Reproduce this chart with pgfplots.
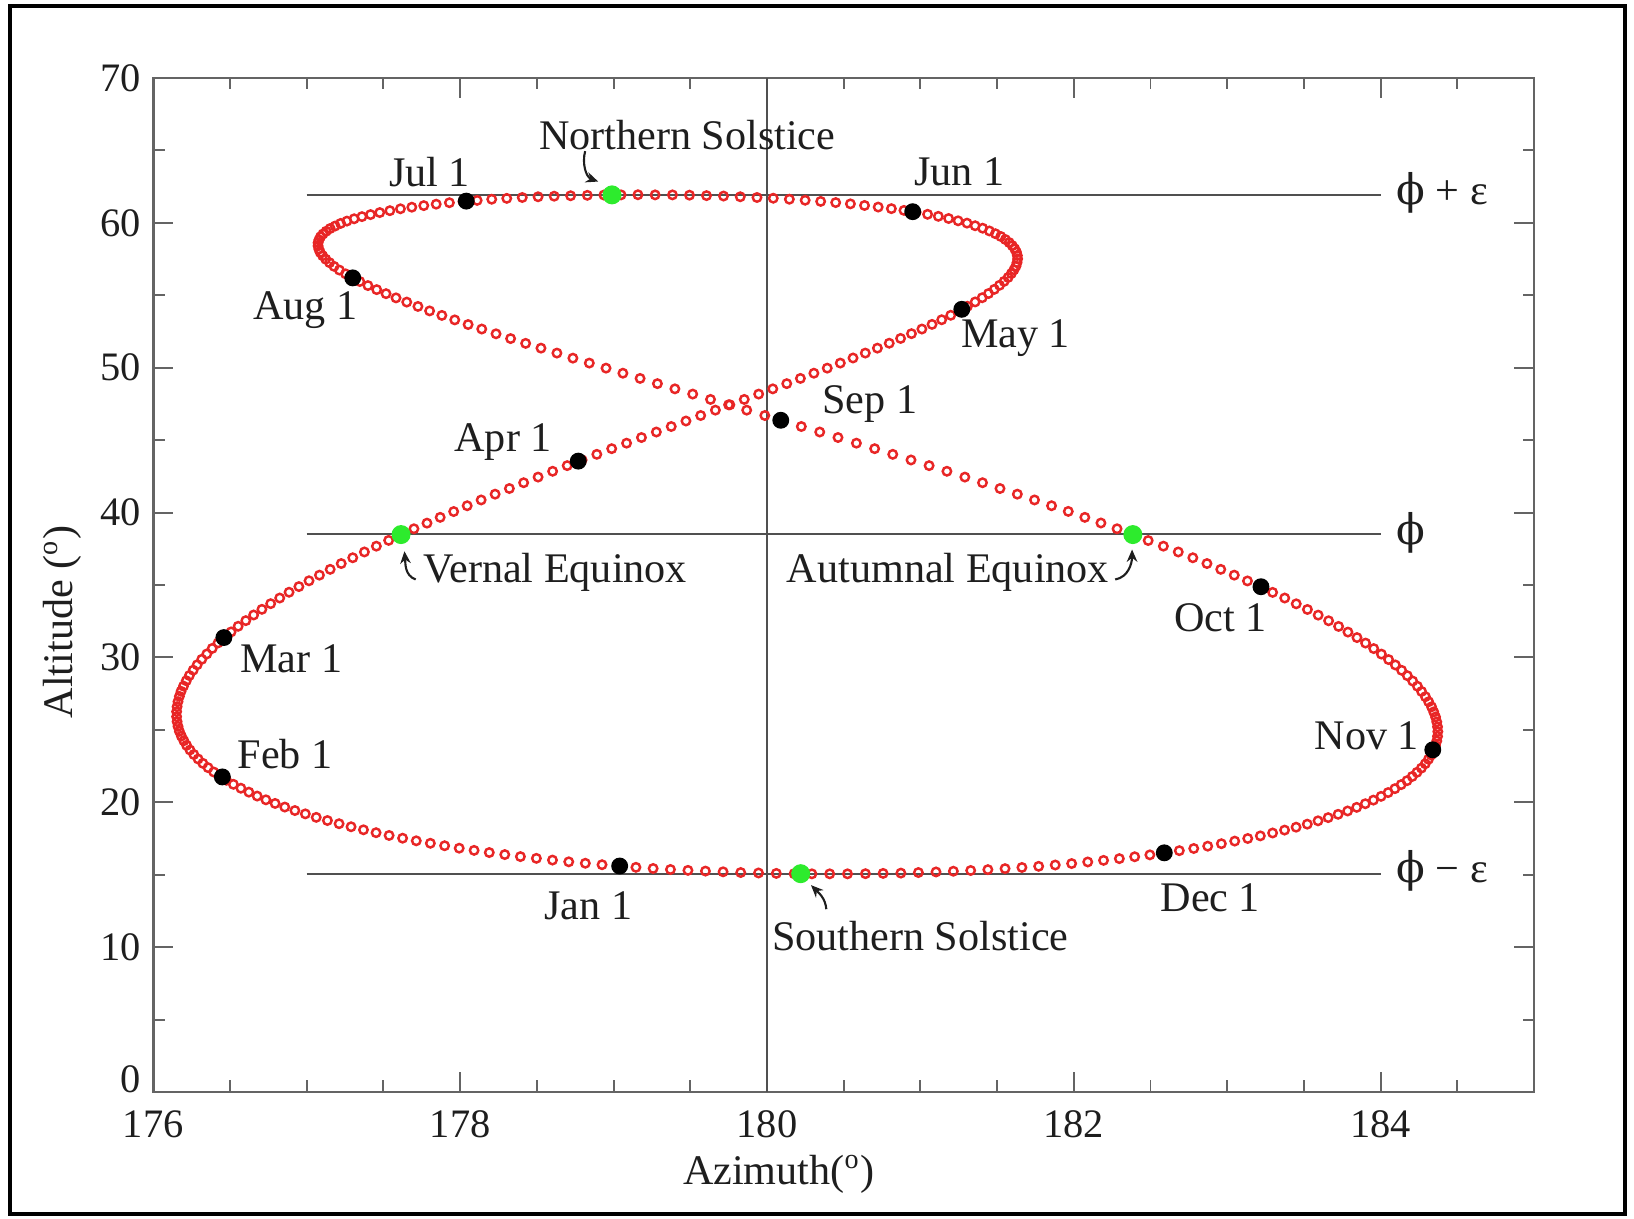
\documentclass[border=0pt]{standalone}
\usepackage{pgfplots}
\pgfplotsset{compat=1.18}
\usepackage{fontspec}
\setmainfont{Liberation Serif}
\newfontfamily\dvs{DejaVu Serif}
\usetikzlibrary{arrows.meta}
\definecolor{axgray}{RGB}{100,100,100}
\definecolor{lngray}{RGB}{80,80,80}
\definecolor{mkred}{RGB}{232,38,38}
\definecolor{mkgreen}{RGB}{45,235,45}
\definecolor{txt}{RGB}{30,30,30}
\begin{document}
\begin{tikzpicture}
\useasboundingbox (0,0) rectangle (16.34,12.19);
\draw[line width=1.4pt] (0.10,0.05) rectangle (16.25,12.13);
\begin{axis}[
  scale only axis, width=13.807cm, height=10.14cm,
  at={(1.533cm,1.27cm)}, anchor=south west,
  xmin=176, xmax=185, ymin=0, ymax=70,
  xtick={176,178,180,182,184},
  minor xtick={176.5,177,177.5,178,178.5,179,179.5,180,180.5,181,181.5,182,182.5,183,183.5,184,184.5},
  ytick={10,20,30,40,50,60,70},
  extra y ticks={0},
  extra y tick style={yticklabel style={yshift=0.13cm}},
  minor ytick={5,15,25,35,45,55,65},
  tick align=inside,
  major tick length=0.2cm, minor tick length=0.115cm,
  axis line style={axgray, line width=0.7pt},
  tick style={axgray, line width=0.55pt},
  ticklabel style={font=\fontsize{11.5}{13}\selectfont, text=txt},
  xticklabel style={yshift=-0.06cm},
  /pgf/number format/assume math mode=true,
  xlabel={Azimuth(\textsuperscript{o})},
  ylabel={Altitude (\textsuperscript{o})},
  label style={font=\fontsize{12}{14}\selectfont, text=txt},
  xlabel style={at={(axis description cs:0.453,-0.081)}, anchor=center},
  ylabel style={at={(axis description cs:-0.066,0.4635)}, anchor=center},
  clip=false,
]
\draw[lngray, line width=0.55pt] (axis cs:177,61.95) -- (axis cs:184,61.95);
\draw[lngray, line width=0.55pt] (axis cs:177,38.5) -- (axis cs:184,38.5);
\draw[lngray, line width=0.55pt] (axis cs:177,15.07) -- (axis cs:184,15.07);
\draw[lngray, line width=0.55pt] (axis cs:180,0) -- (axis cs:180,70);

\addplot[only marks, mark=o, mark size=1.2pt, mark options={draw=mkred, fill=mkred!25, line width=0.7pt}] table {
x y
177.615 38.48
177.699 38.88
177.784 39.27
177.870 39.67
177.958 40.07
178.046 40.47
178.137 40.87
178.228 41.27
178.321 41.66
178.414 42.06
178.508 42.45
178.603 42.85
178.698 43.24
178.795 43.63
178.891 44.02
178.988 44.41
179.085 44.79
179.182 45.18
179.279 45.56
179.376 45.94
179.472 46.32
179.568 46.70
179.664 47.07
179.758 47.44
179.852 47.81
179.946 48.18
180.038 48.54
180.129 48.90
180.218 49.26
180.306 49.62
180.393 49.97
180.478 50.32
180.561 50.67
180.641 51.01
180.720 51.35
180.797 51.69
180.871 52.02
180.942 52.35
181.010 52.67
181.076 52.99
181.139 53.31
181.198 53.62
181.255 53.93
181.307 54.24
181.357 54.54
181.403 54.83
181.444 55.12
181.482 55.41
181.516 55.69
181.546 55.96
181.572 56.23
181.593 56.50
181.610 56.76
181.623 57.01
181.630 57.26
181.634 57.51
181.632 57.75
181.626 57.98
181.615 58.21
181.599 58.43
181.579 58.64
181.554 58.85
181.524 59.06
181.489 59.25
181.450 59.44
181.406 59.63
181.357 59.80
181.304 59.98
181.246 60.14
181.184 60.30
181.117 60.45
181.047 60.59
180.972 60.73
180.893 60.86
180.811 60.98
180.725 61.09
180.636 61.20
180.544 61.31
180.448 61.40
180.350 61.48
180.249 61.56
180.146 61.63
180.041 61.70
179.935 61.75
179.826 61.80
179.717 61.85
179.606 61.88
179.495 61.91
179.384 61.93
179.271 61.93
179.159 61.94
179.049 61.93
178.937 61.92
178.829 61.90
178.720 61.87
178.613 61.84
178.508 61.80
178.405 61.75
178.304 61.69
178.206 61.63
178.111 61.55
178.019 61.47
177.930 61.39
177.844 61.29
177.763 61.19
177.685 61.08
177.611 60.97
177.542 60.84
177.476 60.71
177.416 60.57
177.360 60.43
177.309 60.28
177.262 60.12
177.221 59.96
177.185 59.78
177.153 59.61
177.127 59.42
177.106 59.23
177.090 59.04
177.080 58.83
177.074 58.63
177.074 58.41
177.079 58.19
177.088 57.96
177.104 57.73
177.124 57.49
177.149 57.25
177.178 57.00
177.213 56.74
177.253 56.48
177.297 56.22
177.346 55.95
177.399 55.67
177.456 55.39
177.517 55.11
177.582 54.82
177.652 54.53
177.725 54.23
177.801 53.92
177.881 53.61
177.965 53.30
178.052 52.98
178.141 52.67
178.234 52.34
178.329 52.01
178.427 51.68
178.527 51.35
178.631 51.01
178.735 50.66
178.842 50.32
178.951 49.97
179.061 49.62
179.173 49.26
179.286 48.90
179.400 48.54
179.516 48.18
179.632 47.81
179.750 47.44
179.868 47.07
179.986 46.70
180.105 46.32
180.224 45.94
180.344 45.56
180.463 45.18
180.583 44.79
180.702 44.41
180.820 44.02
180.939 43.63
181.057 43.24
181.173 42.85
181.290 42.45
181.405 42.06
181.519 41.66
181.632 41.27
181.744 40.87
181.855 40.47
181.964 40.08
182.072 39.67
182.177 39.28
182.282 38.88
182.385 38.48
182.485 38.07
182.584 37.68
182.681 37.28
182.776 36.88
182.868 36.48
182.958 36.08
183.046 35.68
183.132 35.28
183.215 34.89
183.296 34.49
183.375 34.10
183.450 33.70
183.523 33.31
183.593 32.92
183.661 32.53
183.726 32.14
183.787 31.75
183.846 31.37
183.902 30.99
183.955 30.61
184.005 30.23
184.052 29.85
184.096 29.48
184.137 29.11
184.174 28.74
184.209 28.37
184.240 28.01
184.267 27.65
184.292 27.29
184.313 26.94
184.332 26.59
184.346 26.24
184.358 25.89
184.366 25.55
184.371 25.21
184.373 24.88
184.371 24.55
184.366 24.23
184.357 23.91
184.345 23.59
184.330 23.27
184.312 22.97
184.291 22.66
184.266 22.36
184.237 22.07
184.206 21.78
184.172 21.49
184.134 21.22
184.093 20.94
184.049 20.67
184.003 20.41
183.953 20.15
183.900 19.90
183.844 19.65
183.785 19.40
183.723 19.17
183.658 18.94
183.592 18.72
183.522 18.49
183.449 18.28
183.374 18.08
183.296 17.88
183.216 17.68
183.134 17.50
183.049 17.32
182.962 17.14
182.873 16.97
182.782 16.81
182.688 16.66
182.593 16.51
182.496 16.37
182.397 16.24
182.297 16.11
182.194 15.99
182.091 15.88
181.986 15.77
181.879 15.67
181.771 15.58
181.662 15.50
181.552 15.42
181.440 15.35
181.328 15.29
181.215 15.24
181.102 15.19
180.987 15.15
180.873 15.11
180.757 15.09
180.642 15.07
180.525 15.06
180.409 15.06
180.293 15.06
180.177 15.07
180.061 15.09
179.945 15.12
179.829 15.15
179.714 15.20
179.599 15.25
179.485 15.30
179.371 15.36
179.258 15.43
179.146 15.51
179.035 15.60
178.925 15.69
178.816 15.79
178.708 15.89
178.602 16.01
178.497 16.13
178.393 16.25
178.291 16.39
178.190 16.53
178.091 16.68
177.994 16.83
177.899 17.00
177.806 17.17
177.714 17.34
177.625 17.52
177.537 17.71
177.452 17.90
177.370 18.10
177.289 18.31
177.211 18.52
177.135 18.74
177.062 18.96
176.991 19.20
176.923 19.43
176.857 19.67
176.794 19.92
176.734 20.17
176.677 20.43
176.623 20.70
176.571 20.97
176.522 21.24
176.477 21.52
176.434 21.81
176.394 22.09
176.357 22.39
176.323 22.69
176.292 22.99
176.264 23.30
176.239 23.61
176.217 23.93
176.199 24.25
176.183 24.57
176.170 24.90
176.161 25.24
176.155 25.57
176.152 25.91
176.152 26.26
176.155 26.60
176.161 26.95
176.170 27.31
176.181 27.66
176.197 28.02
176.215 28.39
176.235 28.75
176.260 29.12
176.286 29.49
176.316 29.87
176.349 30.24
176.384 30.62
176.422 31.00
176.463 31.38
176.507 31.76
176.553 32.15
176.603 32.54
176.654 32.93
176.708 33.32
176.765 33.71
176.824 34.10
176.885 34.50
176.949 34.89
177.015 35.29
177.083 35.68
177.153 36.08
177.225 36.48
177.300 36.88
177.376 37.28
177.454 37.68
177.534 38.08
};

\addplot[only marks, mark=*, mark size=2.2pt, black] coordinates {
(179.04,15.60) (176.45,21.75) (176.46,31.37) (178.77,43.55) (181.27,54.03) (180.95,60.77)
(178.04,61.50) (177.30,56.20) (180.09,46.37) (183.22,34.88) (184.34,23.62) (182.59,16.51)
};
\addplot[only marks, mark=*, mark size=2.5pt, color=mkgreen] coordinates {
(178.99,61.93) (177.615,38.48) (182.385,38.48) (180.22,15.07)
};

\tikzset{lbl/.style={font=\fontsize{12}{14}\selectfont, text=txt, inner sep=0pt}}
\node[lbl] at (axis cs:179.48,66.04) {Northern Solstice};
\node[lbl] at (axis cs:177.80,63.52) {Jul 1};
\node[lbl] at (axis cs:181.255,63.52) {Jun 1};
\node[lbl] at (axis cs:176.99,53.96) {Aug 1};
\node[lbl] at (axis cs:181.62,52.01) {May 1};
\node[lbl] at (axis cs:180.67,47.48) {Sep 1};
\node[lbl] at (axis cs:178.28,44.89) {Apr 1};
\node[lbl] at (axis cs:178.62,35.84) {Vernal Equinox};
\node[lbl] at (axis cs:181.18,35.84) {Autumnal Equinox};
\node[lbl] at (axis cs:182.955,32.73) {Oct 1};
\node[lbl] at (axis cs:176.90,29.93) {Mar 1};
\node[lbl] at (axis cs:183.91,24.60) {Nov 1};
\node[lbl] at (axis cs:176.86,23.31) {Feb 1};
\node[lbl] at (axis cs:178.835,12.88) {Jan 1};
\node[lbl] at (axis cs:182.89,13.38) {Dec 1};
\node[lbl] at (axis cs:181.00,10.79) {Southern Solstice};
\node[lbl, anchor=west] at (axis cs:184.10,62.09) {{\dvs ϕ} + ε};
\node[lbl, anchor=west] at (axis cs:184.10,38.63) {{\dvs ϕ}};
\node[lbl, anchor=west] at (axis cs:184.10,15.25) {{\dvs ϕ} − ε};

\draw[txt, line width=0.6pt, -{Stealth[length=3.5pt,width=3pt]}] (axis cs:178.815,64.95) to[out=-105,in=160] (axis cs:178.90,62.85);
\draw[txt, line width=0.6pt, -{Stealth[length=3.5pt,width=3pt]}] (axis cs:177.71,35.38) to[out=160,in=-85] (axis cs:177.637,37.33);
\draw[txt, line width=0.6pt, -{Stealth[length=3.5pt,width=3pt]}] (axis cs:182.27,35.38) to[out=10,in=-90] (axis cs:182.38,37.45);
\draw[txt, line width=0.6pt, -{Stealth[length=3.5pt,width=3pt]}] (axis cs:180.387,12.62) to[out=95,in=-45] (axis cs:180.287,14.28);
\end{axis}
\end{tikzpicture}
\end{document}
